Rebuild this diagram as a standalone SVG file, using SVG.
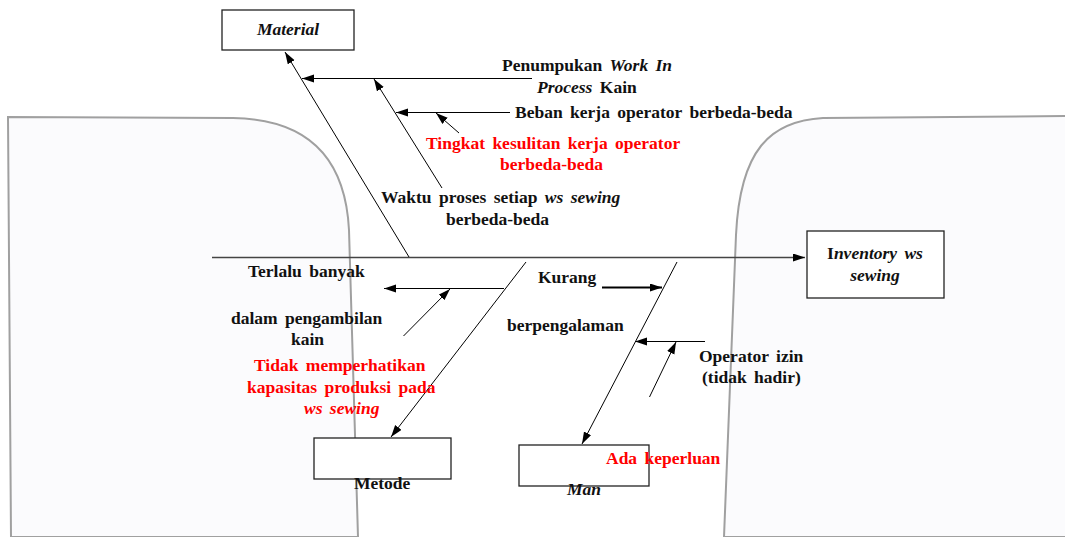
<svg xmlns="http://www.w3.org/2000/svg" width="1065" height="537" viewBox="0 0 1065 537">
<defs>
<marker id="ah" markerUnits="userSpaceOnUse" markerWidth="14" markerHeight="10" refX="12" refY="4" orient="auto"><path d="M0,0 L12,4 L0,8 Z" fill="#000"/></marker>
<style>
.bg{fill:#fbfbfd;stroke:#a0a0a0;stroke-width:2}
.box{fill:#fff;stroke:#222;stroke-width:1.3}
.ln{stroke:#000;stroke-width:1;fill:none}
text{font-family:'Liberation Serif','DejaVu Serif',serif;font-size:17.5px;font-weight:bold;fill:#111;word-spacing:3px}
.r{fill:#ff0000}
.i{font-style:italic}
</style>
</defs>
<path class="bg" d="M8,117 L233,118 C300,119 345,150 349,230 L358,537 L11,537 Z"/>
<path class="bg" d="M1066,116 L823,118 C770,121 740,150 736,235 L724,537 L1066,537 Z"/>
<g id="connectors">
<line x1="212" y1="257.5" x2="805" y2="257.5" stroke="#444" stroke-width="1.5" marker-end="url(#ah)"/>
<line class="ln" x1="409" y1="257" x2="285" y2="52" marker-end="url(#ah)"/>
<line class="ln" x1="532" y1="78.5" x2="302" y2="78.5" marker-end="url(#ah)"/>
<line class="ln" x1="442" y1="188" x2="374" y2="79" marker-end="url(#ah)"/>
<line class="ln" x1="510" y1="112.5" x2="396" y2="112.5" marker-end="url(#ah)"/>
<line class="ln" x1="459" y1="133" x2="436" y2="113" marker-end="url(#ah)"/>
<line class="ln" x1="526" y1="262" x2="391" y2="437" marker-end="url(#ah)"/>
<line class="ln" x1="504" y1="288.5" x2="384" y2="288.5" marker-end="url(#ah)"/>
<line class="ln" x1="403.5" y1="336" x2="450" y2="289" marker-end="url(#ah)"/>
<line x1="602" y1="287.5" x2="662" y2="287.5" stroke="#000" stroke-width="2" marker-end="url(#ah)"/>
<line class="ln" x1="677" y1="262" x2="582" y2="444" marker-end="url(#ah)"/>
<line class="ln" x1="705" y1="341.5" x2="635" y2="341.5" marker-end="url(#ah)"/>
<line class="ln" x1="649.5" y1="397" x2="676" y2="342" marker-end="url(#ah)"/>
</g>
<g id="material"><rect class="box" x="222" y="10" width="132" height="40"/><text class="i" x="288" y="35" text-anchor="middle">Material</text></g>
<g id="inventory"><rect class="box" x="807" y="231" width="137" height="67"/><text x="875" y="259" text-anchor="middle">I<tspan class="i">nventory  ws</tspan></text><text class="i" x="875" y="281" text-anchor="middle">sewing</text></g>
<g id="metode"><rect class="box" x="314" y="438" width="137" height="41"/><text x="354" y="489">Metode</text></g>
<g id="man"><rect class="box" x="519" y="445" width="130" height="41"/><text class="i" x="567" y="495">Man</text></g>
<g id="causes">
<text x="502" y="71">Penumpukan <tspan class="i">Work In</tspan></text>
<text x="537" y="93"><tspan class="i">Process</tspan> Kain</text>
<text x="515" y="118">Beban kerja operator berbeda-beda</text>
<text class="r" x="426" y="149">Tingkat kesulitan kerja operator</text>
<text class="r" x="500" y="170">berbeda-beda</text>
<text x="381" y="203">Waktu proses setiap <tspan class="i">ws sewing</tspan></text>
<text x="446" y="225">berbeda-beda</text>
<text x="248" y="277">Terlalu banyak</text>
<text x="538" y="283">Kurang</text>
<text x="231" y="324">dalam pengambilan</text>
<text x="291" y="345">kain</text>
<text x="507" y="331">berpengalaman</text>
<text class="r" x="254" y="371">Tidak memperhatikan</text>
<text class="r" x="247" y="393">kapasitas produksi pada</text>
<text class="r i" x="304" y="414">ws sewing</text>
<text x="699" y="362">Operator izin</text>
<text x="702" y="383">(tidak hadir)</text>
<text class="r" x="606" y="464">Ada keperluan</text>
</g>
</svg>
